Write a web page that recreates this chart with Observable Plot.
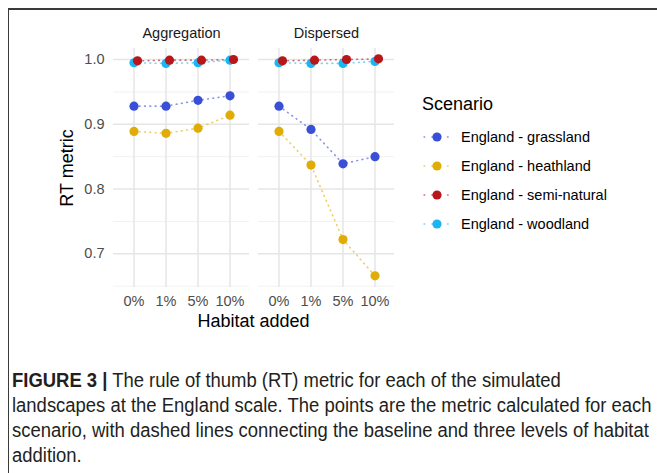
<!DOCTYPE html>
<html>
<head>
<meta charset="utf-8">
<script src="https://cdn.jsdelivr.net/npm/d3@7"></script>
<script src="https://cdn.jsdelivr.net/npm/@observablehq/plot@0.6"></script>
<style>
  html, body { margin: 0; padding: 0; background: #fff; }
  #page { position: relative; width: 657px; height: 473px; overflow: hidden; background: #fff; font-family: "Liberation Sans", Arial, sans-serif; }
  #chart { position: absolute; left: 0; top: 0; }
  #chart svg { background: none; }
  #chart [aria-label="y-axis label"] text { font-size: 18px; fill: #000; }
  #chart [aria-label="fx-axis tick label"] text { fill: #1a1a1a; }
  #xtitle { position: absolute; left: 112px; width: 283px; top: 311px; text-align: center; font-size: 18px; color: #000; }
  #legend { position: absolute; left: 422px; top: 92px; color: #000; }
  #legend .title { font-size: 18px; line-height: 24px; margin-bottom: 6px; }
  #legend .item { display: flex; align-items: center; height: 29.2px; font-size: 14.5px; }
  #legend .item svg { margin-right: 11px; }
  #caption { position: absolute; left: 12px; top: 368px; font-family: "Liberation Sans", Arial, sans-serif; font-size: 19.5px; line-height: 25px; color: #231f20; white-space: nowrap; transform: scaleX(0.946); transform-origin: 0 0; }
  #border-top { position: absolute; left: 8px; right: 0; top: 8px; height: 2px; background: #3a3a3a; }
  #border-left { position: absolute; left: 8px; top: 8px; bottom: 0; width: 1px; background: #3a3a3a; }
</style>
</head>
<body>
<div id="page">
  <div id="chart"></div>
  <div id="xtitle"></div>
  <div id="legend"></div>
  <div id="caption"></div>
  <div id="border-top"></div>
  <div id="border-left"></div>
</div>
<script>
// ---- data ----
const panels = ["Aggregation", "Dispersed"];
const levels = ["0%", "1%", "5%", "10%"];
const scenarios = ["England - grassland", "England - heathland", "England - semi-natural", "England - woodland"];
const colors = ["#3a4fd8", "#e0ad07", "#b7161b", "#19b6f1"];

const aggGrassland   = [0.928, 0.928, 0.937, 0.944];
const aggHeathland   = [0.889, 0.886, 0.894, 0.914];
const aggSemiNatural = [0.998, 0.999, 0.999, 1.000];
const aggWoodland    = [0.995, 0.994, 0.995, 0.999];

const disGrassland   = [0.928, 0.892, 0.839, 0.850];
const disHeathland   = [0.889, 0.837, 0.722, 0.666];
const disSemiNatural = [0.998, 0.999, 1.000, 1.001];
const disWoodland    = [0.995, 0.994, 0.994, 0.997];

const yTicks = [0.7, 0.8, 0.9, 1.0];
const yMinor = [0.65, 0.75, 0.85, 0.95];

const xTitle = "Habitat added";
const yTitle = "RT metric";
const legendTitle = "Scenario";
const captionBold = "FIGURE 3 |";
const captionLines = [
  " The rule of thumb (RT) metric for each of the simulated",
  "landscapes at the England scale. The points are the metric calculated for each",
  "scenario, with dashed lines connecting the baseline and three levels of habitat",
  "addition."
];

// ---- table ----
const series = {
  "Aggregation": [aggGrassland, aggHeathland, aggSemiNatural, aggWoodland],
  "Dispersed":   [disGrassland, disHeathland, disSemiNatural, disWoodland]
};
const data = [];
for (const p of panels) {
  series[p].forEach((vals, si) => {
    vals.forEach((v, li) => data.push({panel: p, level: levels[li], scenario: scenarios[si], value: v}));
  });
}
const semi = scenarios[2];
const others = data.filter(d => d.scenario !== semi);
const semiData = data.filter(d => d.scenario === semi);

const dash = "0.8,4.5";
const lineOpts = {fx: "panel", x: "level", y: "value", z: "scenario", stroke: "scenario", strokeWidth: 1.6, strokeDasharray: dash, strokeOpacity: 0.6, strokeLinecap: "round"};
const dotOpts = {fx: "panel", x: "level", y: "value", fill: "scenario", r: 4.6};

const chart = Plot.plot({
  width: 400,
  height: 340,
  marginLeft: 112.5,
  marginRight: 5.5,
  marginTop: 48,
  marginBottom: 53,
  style: {fontFamily: "Liberation Sans, Arial, sans-serif", fontSize: "14.5px", background: "none", color: "#4d4d4d"},
  fx: {domain: panels, paddingInner: 0.065, paddingOuter: 0, label: null},
  x: {type: "point", domain: levels, padding: 0.6, label: null},
  y: {domain: [0.648, 1.017], label: yTitle},
  color: {domain: scenarios, range: colors},
  marks: [
    Plot.ruleY(yMinor, {stroke: "#efefef", strokeWidth: 0.9}),
    Plot.ruleY(yTicks, {stroke: "#e6e6e6", strokeWidth: 1.5}),
    Plot.ruleX(levels, {x: d => d, stroke: "#e6e6e6", strokeWidth: 1.5}),
    Plot.axisFx({anchor: "top", tickSize: 0, tickPadding: 11, label: null}),
    Plot.axisX({tickSize: 0, tickPadding: 8, label: null}),
    Plot.axisY({ticks: yTicks, tickSize: 0, tickPadding: 9, tickFormat: ".1f", label: yTitle, labelAnchor: "center", labelOffset: 53, labelArrow: "none"}),
    Plot.line(others, lineOpts),
    Plot.line(semiData, {...lineOpts, dx: 3.5}),
    Plot.dot(others, dotOpts),
    Plot.dot(semiData, {...dotOpts, dx: 3.5})
  ]
});
document.getElementById("chart").appendChild(chart);
document.getElementById("xtitle").textContent = xTitle;

// ---- legend ----
const legend = document.getElementById("legend");
const lt = document.createElement("div");
lt.className = "title";
lt.textContent = legendTitle;
legend.appendChild(lt);
scenarios.forEach((s, i) => {
  const item = document.createElement("div");
  item.className = "item";
  const sw = d3.create("svg").attr("width", 28).attr("height", 14);
  sw.append("line").attr("x1", 2).attr("x2", 28).attr("y1", 7).attr("y2", 7)
    .attr("stroke", colors[i]).attr("stroke-width", 1.4).attr("stroke-dasharray", "0.8,7").attr("stroke-linecap", "round").attr("stroke-opacity", 0.6);
  sw.append("circle").attr("cx", 15).attr("cy", 7).attr("r", 4.6).attr("fill", colors[i]);
  item.appendChild(sw.node());
  const t = document.createElement("span");
  t.textContent = s;
  item.appendChild(t);
  legend.appendChild(item);
});

// ---- caption ----
const cap = document.getElementById("caption");
const b = document.createElement("b");
b.textContent = captionBold;
cap.appendChild(b);
captionLines.forEach((line, i) => {
  if (i > 0) cap.appendChild(document.createElement("br"));
  cap.appendChild(document.createTextNode(line));
});
</script>
</body>
</html>
